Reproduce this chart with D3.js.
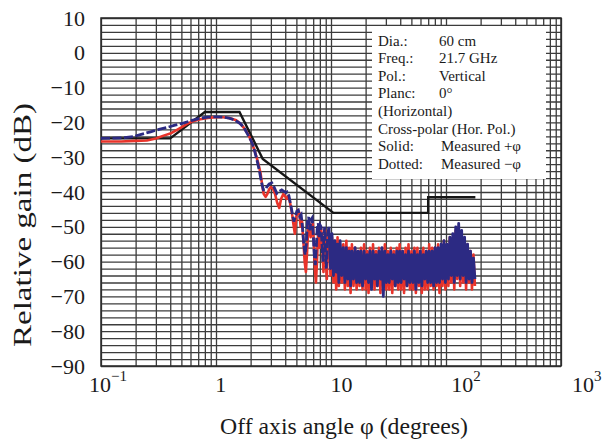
<!DOCTYPE html>
<html>
<head>
<meta charset="utf-8">
<script src="https://cdn.jsdelivr.net/npm/d3@7"></script>
<style>
  html, body { margin: 0; padding: 0; background: #fff; }
  svg { display: block; }
  text { font-family: "Liberation Serif", "Times New Roman", serif; fill: #1a1a1a; }
</style>
</head>
<body>
<svg id="chart" width="612" height="441"></svg>
<script>
// Cross-polar pattern, 60 cm antenna at 21.7 GHz: angle in degrees, gain in dB

// Envelope (reference mask)
const maskAngles = [0.1, 0.4, 0.8, 1.6, 2.55, 10.5, 70, 70, 180];
const maskGain   = [-24.6, -24.6, -17, -17, -30.5, -46, -46, -41.5, -41.5];

// Measured +phi (solid), near-in region
const plusNear = [
  [0.1,-25.5],[0.15,-25.5],[0.2,-25.3],[0.25,-25.2],[0.3,-24.6],[0.35,-23.8],[0.4,-23.2],[0.45,-22.3],
  [0.5,-21.4],[0.56,-20.4],[0.63,-19.7],[0.73,-19.1],[0.85,-18.7],[1.0,-18.5],[1.15,-18.5],[1.33,-18.8],
  [1.5,-19.4],[1.62,-20.3],[1.75,-21.6],[1.92,-23.6],[2.05,-25.8],[2.2,-28.8],[2.32,-31.5],[2.44,-34.6],
  [2.52,-38],[2.6,-40.6],[2.7,-41.4],[2.8,-40.5],[2.9,-39.2],[3.0,-38.6],[3.12,-39],[3.25,-40.4],
  [3.4,-43],[3.55,-44.6],[3.68,-42],[3.85,-40.6],[3.98,-41.2],[4.12,-42],[4.25,-41.2],[4.4,-43],
  [4.55,-45.5],[4.7,-49],[4.85,-52],[5.0,-47],[5.15,-45.2],[5.3,-46],[5.45,-50],[5.6,-48.5],
  [5.75,-54],[5.9,-60],[6.05,-63],[6.2,-57],[6.35,-50],[6.5,-49],[6.65,-53],[6.8,-50],
  [6.95,-49],[7.1,-55],[7.25,-62],[7.4,-66],[7.55,-60],[7.7,-53],[7.85,-51],[8.0,-56],
  [8.15,-50],[8.3,-52],[8.45,-58],[8.6,-63],[8.75,-55],[8.9,-51],[9.05,-60],[9.2,-65],[9.35,-54]
];

// Measured -phi (dotted), near-in region
const minusNear = [
  [0.1,-24.6],[0.13,-24.5],[0.16,-24.4],[0.19,-24.1],[0.22,-23.5],[0.27,-22.7],[0.32,-22],[0.37,-21.5],
  [0.44,-20.8],[0.52,-20.2],[0.62,-19.4],[0.73,-18.8],[0.85,-18.5],[1.0,-18.4],[1.15,-18.5],[1.3,-18.8],
  [1.45,-19.3],[1.62,-20.3],[1.75,-21.5],[1.86,-23.1],[2.0,-25],[2.12,-27],[2.27,-30.8],[2.38,-33.8],
  [2.48,-37],[2.58,-39.4],[2.68,-39.4],[2.77,-38.5],[2.9,-37.7],[3.06,-37.4],[3.2,-38.6],[3.38,-40.4],
  [3.55,-39.8],[3.73,-39.4],[3.9,-39.8],[4.05,-40.2],[4.15,-40],[4.3,-41],[4.45,-43.5],[4.6,-46],
  [4.75,-48.5],[4.9,-47],[5.05,-45.5],[5.2,-45.2],[5.35,-47],[5.5,-46.5],[5.65,-50],[5.8,-55],
  [5.95,-58],[6.1,-55],[6.25,-48],[6.4,-47.2],[6.55,-51],[6.7,-48],[6.85,-47.5],[7.0,-52],
  [7.15,-58],[7.3,-61],[7.45,-56],[7.6,-50],[7.75,-49],[7.9,-53],[8.05,-49.5],[8.2,-50],
  [8.35,-55],[8.5,-60],[8.65,-54],[8.8,-50],[8.95,-57],[9.1,-62],[9.25,-56],[9.4,-52]
];

// Far-out region: measurement angles shared by both sweeps
const farAngles = [
  9.6, 9.9, 10.2, 10.5, 10.8, 11.1, 11.4, 11.7, 12.0, 12.4,
  12.8, 13.2, 13.6, 14.0, 14.4, 14.8, 15.2, 15.7, 16.2, 16.7,
  17.2, 17.7, 18.2, 18.8, 19.4, 20.0, 20.6, 21.2, 21.8, 22.5,
  23.2, 23.9, 24.6, 25.3, 26.1, 26.9, 27.7, 28.5, 29.4, 30.3,
  31.2, 32.1, 33.1, 34.1, 35.1, 36.2, 37.3, 38.4, 39.5, 40.7,
  41.9, 43.2, 44.5, 45.8, 47.2, 48.6, 50.1, 51.6, 53.1, 54.7,
  56.4, 58.1, 59.8, 61.6, 63.5, 65.4, 67.3, 69.3, 71.4, 73.6,
  75.8, 78.0, 80.4, 82.8, 85.3, 87.8, 90.5, 93.2, 96.0, 98.8,
  101.8, 104.9, 108.0, 111.2, 114.6, 118.0, 121.5, 125.2, 128.9, 132.8,
  136.8, 140.9, 145.1, 149.5, 154.0, 158.6, 163.3, 168.2, 173.3, 178.5
];
const plusFar = [
  -52, -64, -53, -66, -54, -68, -53, -67, -55, -66,
  -55, -68, -54, -67, -56, -69, -55, -67, -56, -68,
  -57, -67, -56, -68, -55, -68, -57, -69, -56, -67,
  -55, -68, -57, -67, -56, -69, -57, -67, -55, -68,
  -57, -68, -56, -69, -57, -67, -56, -68, -55, -68,
  -57, -69, -56, -67, -55, -68, -57, -68, -56, -69,
  -56, -67, -57, -69, -56, -68, -57, -68, -55, -67,
  -56, -68, -56, -67, -55, -69, -56, -67, -54, -68,
  -55, -67, -53, -66, -53, -68, -51, -65, -50, -67,
  -52, -66, -54, -68, -55, -66, -57, -68, -58, -67
];
const minusFar = [
  -50, -62, -52, -64, -54, -63, -55, -66, -54, -64,
  -56, -66, -56, -65, -57, -67, -57, -65, -56, -66,
  -57, -66, -57, -67, -57, -65, -58, -66, -57, -68,
  -57, -65, -58, -67, -57, -65, -56, -70, -57, -66,
  -58, -66, -57, -65, -58, -67, -57, -66, -57, -66,
  -57, -65, -58, -67, -57, -66, -58, -66, -57, -68,
  -58, -66, -57, -67, -58, -65, -57, -66, -57, -66,
  -57, -67, -56, -66, -56, -66, -55, -65, -54, -66,
  -55, -65, -53, -64, -52, -66, -50, -64, -49, -65,
  -51, -64, -53, -66, -55, -65, -57, -66, -59, -65
];

// Axis labels
const yTickValues = [10, 0, -10, -20, -30, -40, -50, -60, -70, -80, -90];
const xTickValues = [0.1, 1, 10, 100, 1000];
const xTickBase   = ["10", "1", "10", "10", "10"];
const xTickExp    = ["\u22121", "", "", "2", "3"];

// Parameter box rows
const infoLabels = ["Dia.:", "Freq.:", "Pol.:", "Planc:", "(Horizontal)", "Cross-polar (Hor. Pol.)", "Solid:", "Dotted:"];
const infoValues = ["60 cm", "21.7 GHz", "Vertical", "0\u00B0", "", "", "Measured +\u03C6", "Measured \u2212\u03C6"];

const svg = d3.select("#chart");
const pL = 101, pR = 561, pT = 18, pB = 366;

const x = d3.scaleLog().domain([0.1, 1000]).range([pL, pR]);
const y = d3.scaleLinear().domain([-90, 10]).range([pB, pT]);
// label positions of the decade numbers along the bottom
const xLab = d3.scaleLog().domain([0.1, 1000]).range([100, 583]);

const gridColor = "#3c3c3c";

// vertical log grid
svg.append("g")
  .attr("transform", `translate(0,${pB})`)
  .call(d3.axisBottom(x).tickValues(x.ticks()).tickSize(-(pB - pT)).tickFormat(""))
  .call(g => g.select(".domain").remove())
  .call(g => g.selectAll("line").attr("stroke", gridColor).attr("stroke-width", 1.3));

// horizontal grid every 2 dB
svg.append("g")
  .attr("transform", `translate(${pL},0)`)
  .call(d3.axisLeft(y).tickValues(d3.range(-90, 11, 2)).tickSize(-(pR - pL)).tickFormat(""))
  .call(g => g.select(".domain").remove())
  .call(g => g.selectAll("line").attr("stroke", gridColor).attr("stroke-width", 1.3));

// parameter box background
svg.append("rect")
  .attr("x", 372).attr("y", 26)
  .attr("width", 174).attr("height", 153)
  .attr("fill", "#fff");

// frame
svg.append("rect")
  .attr("x", pL).attr("y", pT)
  .attr("width", pR - pL).attr("height", pB - pT)
  .attr("fill", "none").attr("stroke", "#2a2a2a").attr("stroke-width", 1.5);

// y tick labels
svg.append("g")
  .attr("transform", `translate(${pL},0)`)
  .call(d3.axisLeft(y).tickValues(yTickValues).tickSize(0).tickPadding(16)
    .tickFormat(d => d < 0 ? "\u2212" + Math.abs(d) : String(d)))
  .call(g => g.select(".domain").remove())
  .call(g => g.selectAll("text")
    .style("font-family", "'Liberation Serif', serif")
    .style("font-size", "22px")
    .attr("fill", "#1a1a1a"));

// x tick labels (decades with exponents)
const xl = svg.append("g");
xTickValues.forEach((v, i) => {
  const t = xl.append("text")
    .attr("x", xLab(v))
    .attr("y", 392)
    .attr("font-size", 22);
  t.append("tspan").text(xTickBase[i]);
  if (xTickExp[i]) {
    t.append("tspan").attr("dy", -11).attr("font-size", 15).text(xTickExp[i]);
  }
  // center the base number on its position
  const baseW = t.node().firstChild.getComputedTextLength();
  t.attr("x", xLab(v) - baseW / 2);
});

// axis titles
svg.append("text")
  .attr("x", 344).attr("y", 434)
  .attr("text-anchor", "middle").attr("font-size", 23)
  .attr("textLength", 248).attr("lengthAdjust", "spacingAndGlyphs")
  .text("Off axis angle \u03C6 (degrees)");

svg.append("text")
  .attr("transform", "translate(31,225) rotate(-90)")
  .attr("text-anchor", "middle").attr("font-size", 25)
  .attr("textLength", 244).attr("lengthAdjust", "spacingAndGlyphs")
  .text("Relative gain (dB)");

// curves
const line = d3.line().x(d => x(d[0])).y(d => y(d[1]));
const plusData = plusNear.concat(farAngles.map((a, i) => [a, plusFar[i]]));
const minusFarData = farAngles.map((a, i) => [a, minusFar[i]]);
const maskData = maskAngles.map((a, i) => [a, maskGain[i]]);

const plot = svg.append("g");
plot.append("path").datum(maskData)
  .attr("d", line).attr("fill", "none")
  .attr("stroke", "#161616").attr("stroke-width", 2.4);
plot.append("path").datum(plusData)
  .attr("d", line).attr("fill", "none")
  .attr("stroke", "#e8332a").attr("stroke-width", 2.6).attr("stroke-linejoin", "round");
// dotted sweep: dashes read clearly on the smooth near-in part; the dense far-out part merges into a band
plot.append("path").datum(minusNear.concat([minusFarData[0]]))
  .attr("d", line).attr("fill", "none")
  .attr("stroke", "#2c2a83").attr("stroke-width", 2.8).attr("stroke-dasharray", "9,2.5");
plot.append("path").datum(minusFarData)
  .attr("d", line).attr("fill", "none")
  .attr("stroke", "#2c2a83").attr("stroke-width", 2.8).attr("stroke-linejoin", "round");

// parameter text
const info = svg.append("g").attr("font-size", 15);
infoLabels.forEach((lab, i) => {
  const yy = 45.5 + i * 17.6;
  info.append("text").attr("x", 378).attr("y", yy).text(lab);
  if (infoValues[i]) {
    info.append("text").attr("x", i >= 6 ? 441 : 439).attr("y", yy).text(infoValues[i]);
  }
});
</script>
</body>
</html>
